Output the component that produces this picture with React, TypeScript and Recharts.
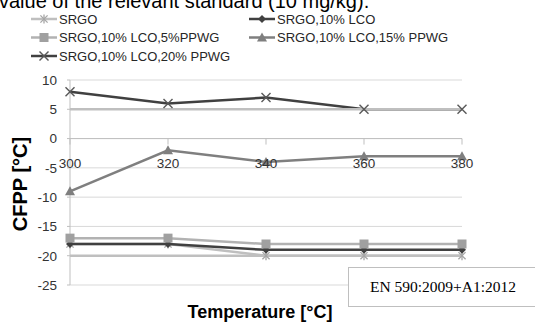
import React from 'react';
import { LineChart, Line, XAxis, YAxis, CartesianGrid, ReferenceLine, ReferenceDot } from 'recharts';

const temperatures = ['300', '320', '340', '360', '380'];
const srgo = [-18, -18, -20, -20, -20];
const srgoLco = [-18, -18, -19, -19, -19];
const srgoLco5 = [-17, -17, -18, -18, -18];
const srgoLco15 = [-9, -2, -4, -3, -3];
const srgoLco20 = [8, 6, 7, 5, 5];
const limitLines = [5, -20];
const yTicks = [10, 5, 0, -5, -10, -15, -20, -25];
const seriesNames = ['SRGO', 'SRGO,10% LCO', 'SRGO,10% LCO,5%PPWG', 'SRGO,10% LCO,15% PPWG', 'SRGO,10% LCO,20% PPWG'];

const data = temperatures.map((t, i) => ({
  t,
  s0: srgo[i],
  s1: srgoLco[i],
  s2: srgoLco5[i],
  s3: srgoLco15[i],
  s4: srgoLco20[i],
}));

const FONT = '"Liberation Sans", Arial, sans-serif';

type MProps = { cx: number; cy: number; kind: string; color: string };
const Marker = ({ cx, cy, kind, color }: MProps) => {
  if (cx == null || cy == null) return <g />;
  if (kind === 'star') {
    const r = 4.5;
    const d = r * 0.8;
    return (
      <g stroke={color} strokeWidth={1.3}>
        <line x1={cx} y1={cy - r} x2={cx} y2={cy + r} />
        <line x1={cx - d} y1={cy - d} x2={cx + d} y2={cy + d} />
        <line x1={cx - d} y1={cy + d} x2={cx + d} y2={cy - d} />
      </g>
    );
  }
  if (kind === 'diamond') {
    const r = 4;
    return <polygon points={`${cx},${cy - r} ${cx + r},${cy} ${cx},${cy + r} ${cx - r},${cy}`} fill={color} />;
  }
  if (kind === 'square') {
    const s = 9;
    return <rect x={cx - s / 2} y={cy - s / 2} width={s} height={s} fill={color} />;
  }
  if (kind === 'triangle') {
    const r = 5;
    return <polygon points={`${cx},${cy - r} ${cx + r},${cy + r * 0.8} ${cx - r},${cy + r * 0.8}`} fill={color} />;
  }
  const r = 4.5;
  return (
    <g stroke={color} strokeWidth={1.4}>
      <line x1={cx - r} y1={cy - r} x2={cx + r} y2={cy + r} />
      <line x1={cx - r} y1={cy + r} x2={cx + r} y2={cy - r} />
    </g>
  );
};

const seriesStyle = [
  { key: 's0', line: '#bfbfbf', marker: '#a6a6a6', kind: 'star' },
  { key: 's1', line: '#404040', marker: '#404040', kind: 'diamond' },
  { key: 's2', line: '#b2b2b2', marker: '#a0a0a0', kind: 'square' },
  { key: 's3', line: '#7f7f7f', marker: '#7f7f7f', kind: 'triangle' },
  { key: 's4', line: '#404040', marker: '#595959', kind: 'x' },
];

const legendPos = [
  { x: 31, y: 19 },
  { x: 249, y: 19 },
  { x: 31, y: 37.5 },
  { x: 249, y: 37.5 },
  { x: 31, y: 56 },
];

const XTick = (props: any) => {
  const { cx, cy, label } = props;
  return (
    <g>
      <line x1={cx} y1={cy} x2={cx} y2={cy + 6} stroke="#bfbfbf" strokeWidth={1} />
      <text x={cx} y={cy + 29} textAnchor="middle" fontFamily={FONT} fontSize={13.5} fill="#333">
        {label}
      </text>
    </g>
  );
};

export default function App() {
  return (
    <div style={{ position: 'absolute', left: 0, top: 0, width: 535, height: 323, background: '#fff', overflow: 'hidden' }}>
      <LineChart width={535} height={323} data={data} margin={{ top: 80, right: 73, bottom: 38, left: 30 }}>
        <CartesianGrid vertical={false} stroke="#d9d9d9" strokeWidth={1} />
        <XAxis dataKey="t" hide />
        <YAxis
          width={40}
          domain={[-25, 10]}
          ticks={yTicks}
          interval={0}
          axisLine={{ stroke: '#bfbfbf' }}
          tickLine={{ stroke: '#bfbfbf' }}
          tickSize={3}
          tickMargin={10}
          tick={{ fontFamily: FONT, fontSize: 13.5, fill: '#333' }}
        />
        <ReferenceLine y={0} stroke="#bfbfbf" strokeWidth={1} />
        {seriesStyle.map((s) => (
          <Line
            key={s.key}
            dataKey={s.key}
            stroke={s.line}
            strokeWidth={2.5}
            isAnimationActive={false}
            dot={(p: any) => <Marker key={`${s.key}-${p.index}`} cx={p.cx} cy={p.cy} kind={s.kind} color={s.marker} />}
            activeDot={false}
          />
        ))}
        {limitLines.map((v) => (
          <ReferenceLine key={v} y={v} stroke="#bfbfbf" strokeWidth={2.5} ifOverflow="visible" />
        ))}
        {temperatures.map((t) => (
          <ReferenceDot
            key={t}
            x={t}
            y={0}
            r={0}
            ifOverflow="visible"
            shape={(p: any) => <XTick cx={p.cx} cy={p.cy} label={t} />}
          />
        ))}
      </LineChart>
      <svg width={535} height={323} style={{ position: 'absolute', left: 0, top: 0, pointerEvents: 'none' }}>
        <text x={-1} y={8} fontFamily={FONT} fontSize={20} fill="#000">
          value of the relevant standard (10 mg/kg).
        </text>
        {seriesNames.map((name, i) => {
          const s = seriesStyle[i];
          const p = legendPos[i];
          return (
            <g key={name}>
              <line x1={p.x} y1={p.y} x2={p.x + 26} y2={p.y} stroke={s.line} strokeWidth={2.5} />
              <Marker cx={p.x + 13} cy={p.y} kind={s.kind} color={s.marker} />
              <text x={p.x + 28} y={p.y + 4.5} fontFamily={FONT} fontSize={13} fill="#262626">
                {name}
              </text>
            </g>
          );
        })}
        <text
          x={0}
          y={0}
          transform="translate(27,184) rotate(-90)"
          textAnchor="middle"
          fontFamily={FONT}
          fontWeight="bold"
          fontSize={20}
          fill="#000"
        >
          CFPP [°C]
        </text>
        <text x={260} y={318} textAnchor="middle" fontFamily={FONT} fontWeight="bold" fontSize={18} fill="#000">
          Temperature [°C]
        </text>
        <rect x={348.5} y={267.5} width={190} height={39} fill="#fff" stroke="#bfbfbf" strokeWidth={1} />
        <text x={443} y={292} textAnchor="middle" fontFamily='"Liberation Serif", "Times New Roman", serif' fontSize={15.5} fill="#000">
          EN 590:2009+A1:2012
        </text>
      </svg>
    </div>
  );
}
